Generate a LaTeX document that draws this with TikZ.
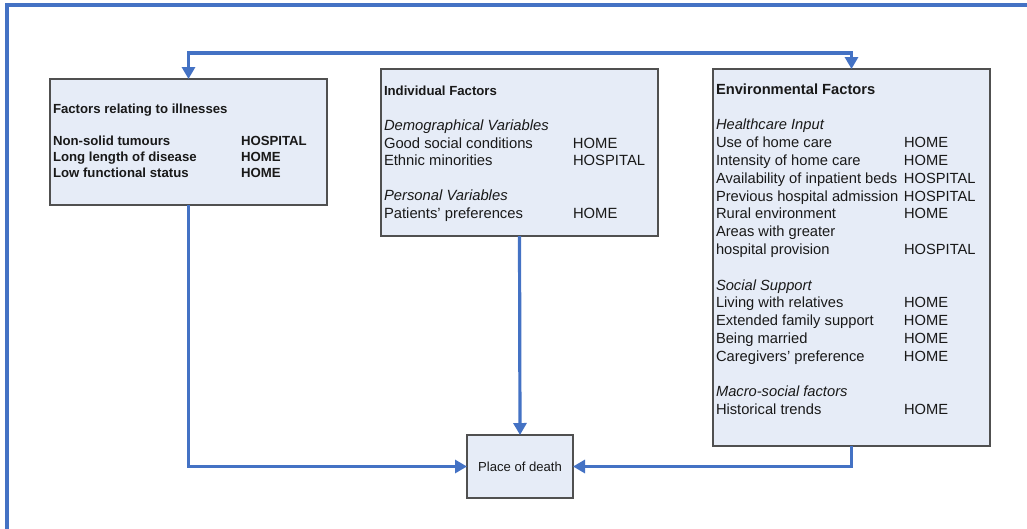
\documentclass[tikz,border=0pt]{standalone}
\usepackage{fontspec}
\setmainfont{Liberation Sans}
\usetikzlibrary{arrows.meta}
\definecolor{linkblue}{HTML}{4472C4}
\definecolor{boxfill}{HTML}{E6ECF7}
\definecolor{boxline}{HTML}{505050}
\begin{document}
\begin{tikzpicture}[x=1pt,y=-1pt,
  box/.style={draw=boxline,fill=boxfill,line width=1.4pt,anchor=north west,inner sep=0pt,outer sep=0pt},
  txt/.style={anchor=base west,inner sep=0pt,outer sep=0pt,text=black!90},
  tip/.tip={Triangle[length=12pt,width=13pt]},
  link/.style={draw=linkblue,line width=3.2pt,-tip},
  frame/.style={draw=linkblue,line width=3.2pt}]
\useasboundingbox (0,0) rectangle (1027,528);
\draw[frame] (7,530) -- (7,5) -- (1030,5);
% boxes
\node[box,minimum width=277pt,minimum height=126pt] (A) at (50,79) {};
\node[box,minimum width=277pt,minimum height=167pt] (B) at (381,69) {};
\node[box,minimum width=277pt,minimum height=377pt] (C) at (713,69) {};
\node[box,minimum width=106pt,minimum height=63pt] (P) at (467,435) {};
% texts
\node[txt,font=\fontsize{13.2}{16}\selectfont\bfseries] (At) at (53,113.7) {\begin{tabular}[t]{@{}p{188pt}@{}l@{}}
Factors relating to illnesses & \\
 & \\
Non-solid tumours & HOSPITAL\\
Long length of disease & HOME\\
Low functional status & HOME
\end{tabular}};
\node[txt,font=\fontsize{14.8}{17.5}\selectfont] (Bt) at (384,95.5) {\begin{tabular}[t]{@{}p{189pt}@{}l@{}}
{\fontsize{13.2}{16}\selectfont\bfseries Individual Factors} & \\
 & \\
\textit{Demographical Variables} & \\
Good social conditions & HOME\\
Ethnic minorities & HOSPITAL\\
 & \\
\textit{Personal Variables} & \\
Patients' preferences & HOME
\end{tabular}};
\node[txt,font=\fontsize{14.7}{17.8}\selectfont] (Ct) at (716,94.3) {\begin{tabular}[t]{@{}p{188pt}@{}l@{}}
\textbf{Environmental Factors} & \\
 & \\
\textit{Healthcare Input} & \\
Use of home care & HOME\\
Intensity of home care & HOME\\
Availability of inpatient beds & HOSPITAL\\
Previous hospital admission & HOSPITAL\\
Rural environment & HOME\\
Areas with greater & \\
hospital provision & HOSPITAL\\
 & \\
\textit{Social Support} & \\
Living with relatives & HOME\\
Extended family support & HOME\\
Being married & HOME\\
Caregivers' preference & HOME\\
 & \\
\textit{Macro-social factors} & \\
Historical trends & HOME
\end{tabular}};
\node[anchor=center,inner sep=0pt,font=\fontsize{13.1}{16}\selectfont,text=black!90] (Pt) at (P.center) {Place of death};
% connectors
\draw[link,tip-tip] (A.north) -- ++(0,-26) -| (C.north);
\draw[link] (A.south) |- (P.west);
\draw[link] (B.south) -- (P.north);
\draw[link] (C.south) |- (P.east);
\end{tikzpicture}
\end{document}
